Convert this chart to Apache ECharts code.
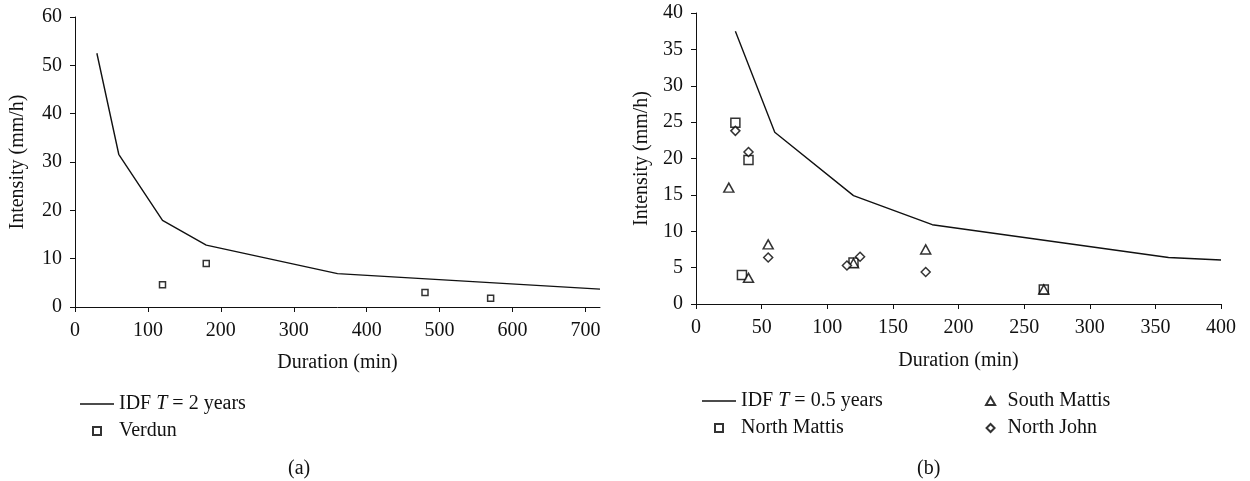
<!DOCTYPE html>
<html>
<head>
<meta charset="utf-8">
<script src="https://cdn.jsdelivr.net/npm/echarts@6/dist/echarts.min.js"></script>
<style>html,body{margin:0;padding:0;background:#fff}#c{width:1250px;height:481px}</style>
</head>
<body>
<div id="c"></div>
<script>
// ---- Panel (a) data ----
const idf2X = [30, 60, 120, 180, 360, 720];
const idf2Y = [52.5, 31.6, 17.9, 12.8, 6.9, 3.7];
const verdunX = [120, 180, 480, 570];
const verdunY = [4.6, 9.0, 3.0, 1.8];
const ticksAX = [0, 100, 200, 300, 400, 500, 600, 700];
const ticksAY = [0, 10, 20, 30, 40, 50, 60];

// ---- Panel (b) data ----
const idf05X = [30, 60, 120, 180, 360, 400];
const idf05Y = [37.5, 23.6, 14.9, 10.9, 6.4, 6.05];
const northMattisX = [30, 40, 35, 120, 265];
const northMattisY = [24.9, 19.8, 4.0, 5.7, 2.0];
const southMattisX = [25, 40, 55, 120, 175, 265];
const southMattisY = [16.0, 3.6, 8.2, 5.6, 7.5, 2.0];
const northJohnX = [30, 40, 55, 115, 125, 175];
const northJohnY = [23.8, 20.9, 6.4, 5.3, 6.5, 4.4];
const ticksBX = [0, 50, 100, 150, 200, 250, 300, 350, 400];
const ticksBY = [0, 5, 10, 15, 20, 25, 30, 35, 40];

const zip = (xs, ys) => xs.map((x, i) => [x, ys[i]]);

const FONT = '"Liberation Serif", "DejaVu Serif", serif';
const INK = '#111111';

function xAxis(gridIndex, min, max, interval, ticks, nameGap) {
  return {
    type: 'value', gridIndex, min, max, interval,
    name: 'Duration (min)', nameLocation: 'middle', nameGap,
    nameTextStyle: { fontFamily: FONT, fontSize: 20, color: INK },
    axisLine: { show: true, lineStyle: { color: INK, width: 1 } },
    axisTick: { show: true, length: 5, lineStyle: { color: INK }, customValues: ticks },
    axisLabel: { fontFamily: FONT, fontSize: 20, color: INK, margin: 14, customValues: ticks },
    splitLine: { show: false }
  };
}
function yAxis(gridIndex, min, max, interval, nameGap) {
  return {
    type: 'value', gridIndex, min, max, interval,
    name: 'Intensity (mm/h)', nameLocation: 'middle', nameGap,
    nameTextStyle: { fontFamily: FONT, fontSize: 20, color: INK },
    axisLine: { show: true, lineStyle: { color: INK, width: 1 } },
    axisTick: { show: true, length: 5, lineStyle: { color: INK } },
    axisLabel: { fontFamily: FONT, fontSize: 20, color: INK, margin: 13 },
    splitLine: { show: false }
  };
}

const markerStyle = { color: '#ffffff', borderColor: '#000000', borderWidth: 1.5 };
const rich = {
  n: { fontFamily: FONT, fontSize: 20, color: INK, lineHeight: 20 },
  i: { fontFamily: FONT, fontSize: 20, color: INK, fontStyle: 'italic', lineHeight: 20 }
};
function legendFmt(name) {
  const m = name.match(/^IDF T (.*)$/);
  if (m) return '{n|IDF }{i|T}{n| ' + m[1] + '}';
  return '{n|' + name + '}';
}
const ICONS = {
  line: 'path://M0,0h34v1.4h-34z',
  rect: 'path://M0,0h8v8h-8z',
  triangle: 'path://M4,0L8,7L0,7Z',
  diamond: 'path://M4,0L8,4L4,8L0,4Z'
};
function legend(left, top, items, itemWidth) {
  return {
    orient: 'vertical', left, top, itemWidth, itemHeight: 8, itemGap: 7,
    symbolKeepAspect: true,
    data: items.map(([name, icon]) => ({ name, icon: ICONS[icon] })),
    formatter: legendFmt, selectedMode: false,
    textStyle: { fontFamily: FONT, fontSize: 20, color: INK, lineHeight: 20, rich }
  };
}

const option = {
  animation: false,
  backgroundColor: '#ffffff',
  grid: [
    { left: 75, top: 17, width: 525, height: 290, containLabel: false, outerBoundsMode: 'none' },
    { left: 696, top: 13, width: 525, height: 291, containLabel: false, outerBoundsMode: 'none' }
  ],
  xAxis: [
    xAxis(0, 0, 720, 100, ticksAX, 46),
    xAxis(1, 0, 400, 50, ticksBX, 47)
  ],
  yAxis: [
    yAxis(0, ticksAY[0], ticksAY[ticksAY.length - 1], 10, 47),
    yAxis(1, ticksBY[0], ticksBY[ticksBY.length - 1], 5, 44)
  ],
  legend: [
    legend(75, 389, [['IDF T = 2 years', 'line'], ['Verdun', 'rect']], 34),
    legend(697, 386, [['IDF T = 0.5 years', 'line'], ['North Mattis', 'rect']], 34),
    legend(980, 386, [['South Mattis', 'triangle'], ['North John', 'diamond']], 24)
  ],
  graphic: [
    { type: 'text', left: 288, top: 459, style: { text: '(a)', font: '20px ' + FONT, fill: INK } },
    { type: 'text', left: 917, top: 459, style: { text: '(b)', font: '20px ' + FONT, fill: INK } }
  ],
  series: [
    { name: 'IDF T = 2 years', type: 'line', xAxisIndex: 0, yAxisIndex: 0, data: zip(idf2X, idf2Y),
      symbol: 'none', lineStyle: { color: INK, width: 1.4 }, itemStyle: { color: INK } },
    { name: 'Verdun', type: 'scatter', xAxisIndex: 0, yAxisIndex: 0, data: zip(verdunX, verdunY),
      symbol: 'rect', symbolSize: 6, itemStyle: markerStyle },
    { name: 'IDF T = 0.5 years', type: 'line', xAxisIndex: 1, yAxisIndex: 1, data: zip(idf05X, idf05Y),
      symbol: 'none', lineStyle: { color: INK, width: 1.4 }, itemStyle: { color: INK } },
    { name: 'North Mattis', type: 'scatter', xAxisIndex: 1, yAxisIndex: 1, data: zip(northMattisX, northMattisY),
      symbol: 'rect', symbolSize: 9, itemStyle: markerStyle },
    { name: 'South Mattis', type: 'scatter', xAxisIndex: 1, yAxisIndex: 1, data: zip(southMattisX, southMattisY),
      symbol: 'triangle', symbolSize: [10, 9], itemStyle: markerStyle },
    { name: 'North John', type: 'scatter', xAxisIndex: 1, yAxisIndex: 1, data: zip(northJohnX, northJohnY),
      symbol: 'diamond', symbolSize: 9, itemStyle: markerStyle }
  ]
};

const chart = echarts.init(document.getElementById('c'), null, { renderer: 'canvas' });
chart.setOption(option);
</script>
</body>
</html>
